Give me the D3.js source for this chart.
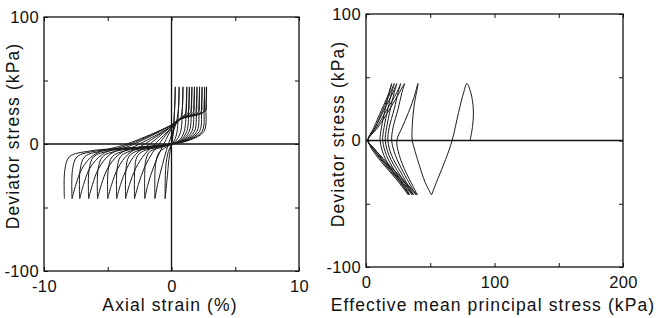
<!DOCTYPE html>
<meta charset="utf-8">
<style>
body { margin: 0; background: #fff; }
svg { font-family: "Liberation Sans", Arial, sans-serif; }
.frame { fill: none; stroke: #111; stroke-width: 1.3px; }
.zero { stroke: #111; stroke-width: 1.3px; }
.loop { fill: none; stroke: #1a1a1a; stroke-width: 1px; }
.tick text { font-size: 16.5px; fill: #111; letter-spacing: 0.4px; }
.tick line { stroke: #111; }
.title { font-size: 17.5px; letter-spacing: 1.1px; fill: #111; }
</style>
<body>
<script src="https://d3js.org/d3.v7.min.js"></script>
<script>

// tick labels
var strainTicks = [-10, -5, 0, 5, 10];
var stressTicks = [-100, -50, 0, 50, 100];
var pTicks = [0, 50, 100, 150, 200];
var labelled = [-100, -10, 0, 10, 100, 200];

// left panel: axial strain (%) vs deviator stress (kPa), one array per cycle
var cycles = [
  [[0,0],[0.1,8],[0.2,20],[0.28,35],[0.3,45],[0.25,30],[0.15,10],[0,0],[-0.25,-6],[-0.45,-18],[-0.5,-43]],
  [[-0.5,-43],[-0.35,-28],[-0.2,-12],[-0.05,-2],[0.1,8],[0.4,18],[0.55,28],[0.6,45],[0.55,28],[0.4,8],[0.1,1],[-0.5,-3],[-1.0,-7],[-1.25,-16],[-1.3,-43]],
  [[-1.3,-43],[-1.05,-30],[-0.7,-16],[-0.4,-5],[-0.1,4],[0.3,15],[0.7,20],[0.85,28],[0.9,45],[0.85,28],[0.7,9],[0.3,2],[0,0],[-0.9,-3],[-1.7,-6],[-2.0,-12],[-2.1,-24],[-2.1,-43]],
  [[-2.1,-43],[-1.85,-32],[-1.4,-18],[-0.9,-6],[-0.5,2],[0,12],[0.6,19],[1.1,24],[1.18,32],[1.2,45],[1.15,30],[1.0,10],[0.6,3],[0,0],[-1.0,-2.5],[-2.2,-5.5],[-2.7,-10],[-2.88,-20],[-2.9,-43]],
  [[-2.9,-43],[-2.6,-32],[-2.1,-18],[-1.5,-7],[-0.9,1],[0,13],[0.6,19],[1.3,25],[1.38,33],[1.4,45],[1.35,30],[1.2,10],[0.7,3],[0,0],[-1.2,-2.5],[-2.7,-5.5],[-3.35,-10],[-3.57,-20],[-3.6,-43]],
  [[-3.6,-43],[-3.3,-32],[-2.8,-19],[-2.1,-8],[-1.3,0],[0,13],[0.6,19],[1.5,25],[1.58,33],[1.6,45],[1.55,30],[1.4,10],[0.8,3],[0,0],[-1.4,-2.5],[-3.2,-5.5],[-4.0,-10],[-4.27,-20],[-4.3,-43]],
  [[-4.3,-43],[-4.0,-32],[-3.5,-19],[-2.8,-8],[-1.7,0],[0,14],[0.6,19],[1.7,25],[1.78,33],[1.8,45],[1.75,30],[1.6,10],[0.9,3],[0,0],[-1.6,-2.5],[-3.7,-5.5],[-4.65,-10],[-4.96,-20],[-5.0,-43]],
  [[-5.0,-43],[-4.7,-32],[-4.2,-19],[-3.4,-8],[-2.1,0],[0,14],[0.6,19],[1.9,25],[1.98,33],[2.0,45],[1.95,30],[1.8,10],[1.0,3],[0,0],[-1.8,-2.5],[-4.3,-5.5],[-5.4,-10],[-5.76,-20],[-5.8,-43]],
  [[-5.8,-43],[-5.5,-32],[-5.0,-19],[-4.1,-8],[-2.5,0],[0,14],[0.6,19],[2.1,25],[2.18,33],[2.2,45],[2.15,30],[2.0,10],[1.1,3],[0,0],[-2.0,-2.5],[-4.9,-5.5],[-6.1,-10],[-6.46,-20],[-6.5,-43]],
  [[-6.5,-43],[-6.2,-32],[-5.7,-19],[-4.8,-8],[-2.9,0],[0,15],[0.6,19.5],[2.3,25],[2.38,33],[2.4,45],[2.35,30],[2.2,10],[1.2,3],[0,0],[-2.2,-2.5],[-5.4,-5.5],[-6.8,-10],[-7.16,-20],[-7.2,-43]],
  [[-7.2,-43],[-6.9,-32],[-6.4,-19],[-5.4,-8],[-3.2,0],[0,15],[0.7,20],[2.5,25],[2.58,33],[2.6,45],[2.55,30],[2.4,10],[1.3,3],[0,0],[-2.4,-2.5],[-5.9,-5.5],[-7.4,-10],[-7.76,-20],[-7.8,-43]],
  [[-7.8,-43],[-7.5,-32],[-7.0,-19],[-6.0,-8],[-3.5,0],[0,15],[0.9,21],[2.65,26],[2.73,33],[2.75,45],[2.7,30],[2.55,10],[1.4,3],[0,0],[-2.6,-2.5],[-6.4,-5.5],[-8.0,-10],[-8.36,-20],[-8.4,-43]]
];

// right panel: effective mean principal stress vs deviator stress (kPa)
var paths = [
  [[81,0],[83,12],[83.5,25],[81.5,38],[78.5,45],[76,38],[72,22],[67,0],[62,-15],[56,-30],[51,-43]],
  [[51,-43],[46,-33],[41,-18],[37.5,-6],[36,0],[36,12],[37.5,28],[40.5,45],[37,33],[33,22],[28,10],[24,0],[26,-12],[31,-25],[36,-35],[40,-43]],
  [[40,-43],[28,-30],[16,-17],[6,-6],[1.5,0],[9,10],[18,24],[26,38],[30,45],[28,38],[25,25],[21,10],[20,0],[23,-12],[29,-25],[35,-36],[39,-43]],
  [[39,-43],[27,-30],[15,-17],[6,-6],[1.5,0],[8,10],[16,24],[24,38],[27,45],[25,38],[22,25],[18,10],[17,0],[20,-12],[27,-25],[33,-36],[37,-43]],
  [[37,-43],[26,-30],[14,-17],[5,-6],[1.5,0],[7,10],[14,24],[21,38],[24,45],[22,38],[19,25],[16,10],[15,0],[18,-12],[25,-25],[32,-36],[36,-43]],
  [[36,-43],[25,-30],[14,-17],[5,-6],[1.5,0],[7,10],[13,24],[19,38],[22,45],[20,38],[17,25],[14,10],[13,0],[16,-12],[23,-25],[30,-36],[34,-43]],
  [[34,-43],[24,-30],[13,-17],[5,-6],[1.5,0],[6,10],[12,24],[18,38],[20,45],[18,38],[15,25],[12,10],[11,0],[14,-12],[21,-25],[29,-36],[33,-43]],
  [[33,-43],[23,-30],[12,-17],[4,-6],[1.5,0]]
];

var svg = d3.select("body").append("svg")
    .attr("width", 658)
    .attr("height", 318);

function fmt(d) { return labelled.indexOf(d) >= 0 ? String(d) : ""; }

// draws frame, inward ticks on all four sides and labels on left/bottom
function panel(x, y, xt, yt) {
  var x0 = x.range()[0], x1 = x.range()[1], y0 = y.range()[1], y1 = y.range()[0];
  svg.append("g").attr("transform", "translate(0," + y1 + ")")
      .call(d3.axisBottom(x).tickValues(xt).tickFormat(fmt).tickSizeInner(-4).tickSizeOuter(0).tickPadding(9));
  svg.append("g").attr("transform", "translate(0," + y0 + ")")
      .call(d3.axisTop(x).tickValues(xt).tickFormat("").tickSizeInner(-4).tickSizeOuter(0));
  svg.append("g").attr("transform", "translate(" + x0 + ",0)")
      .call(d3.axisLeft(y).tickValues(yt).tickFormat(fmt).tickSizeInner(-4).tickSizeOuter(0).tickPadding(5));
  svg.append("g").attr("transform", "translate(" + x1 + ",0)")
      .call(d3.axisRight(y).tickValues(yt).tickFormat("").tickSizeInner(-4).tickSizeOuter(0));
  svg.selectAll(".domain").remove();
  svg.append("rect").attr("class", "frame")
      .attr("x", x0).attr("y", y0).attr("width", x1 - x0).attr("height", y1 - y0);
  svg.append("line").attr("class", "zero")
      .attr("x1", x0).attr("x2", x1).attr("y1", y(0)).attr("y2", y(0));
}

// left panel
var x = d3.scaleLinear().domain([-10, 10]).range([44, 299]);
var y = d3.scaleLinear().domain([-100, 100]).range([271, 17]);
panel(x, y, strainTicks, stressTicks);
svg.append("line").attr("class", "zero")
    .attr("x1", x(0)).attr("x2", x(0)).attr("y1", y(100)).attr("y2", y(-100));

var line1 = d3.line()
    .x(function(d) { return x(d[0]); })
    .y(function(d) { return y(d[1]); })
    .curve(d3.curveCatmullRom.alpha(0.5));
svg.selectAll(".c1").data(cycles).enter().append("path")
    .attr("class", "loop").attr("d", line1);

// right panel
var x2 = d3.scaleLinear().domain([0, 200]).range([366, 623]);
var y2 = d3.scaleLinear().domain([-100, 100]).range([267, 14]);
panel(x2, y2, pTicks, stressTicks);

var line2 = d3.line()
    .x(function(d) { return x2(d[0]); })
    .y(function(d) { return y2(d[1]); })
    .curve(d3.curveCatmullRom.alpha(0.5));
svg.selectAll(".c2").data(paths).enter().append("path")
    .attr("class", "loop").attr("d", line2);

// axis titles
svg.append("text").attr("class", "title").attr("text-anchor", "middle")
    .attr("x", 170).attr("y", 311).text("Axial strain (%)");
svg.append("text").attr("class", "title").attr("text-anchor", "middle")
    .attr("x", 493).attr("y", 311).text("Effective mean principal stress (kPa)");
svg.append("text").attr("class", "title").attr("text-anchor", "middle")
    .attr("transform", "translate(19,136) rotate(-90)").text("Deviator stress (kPa)");
svg.append("text").attr("class", "title").attr("text-anchor", "middle")
    .attr("transform", "translate(344,134) rotate(-90)").text("Deviator stress (kPa)");

</script>
</body>
